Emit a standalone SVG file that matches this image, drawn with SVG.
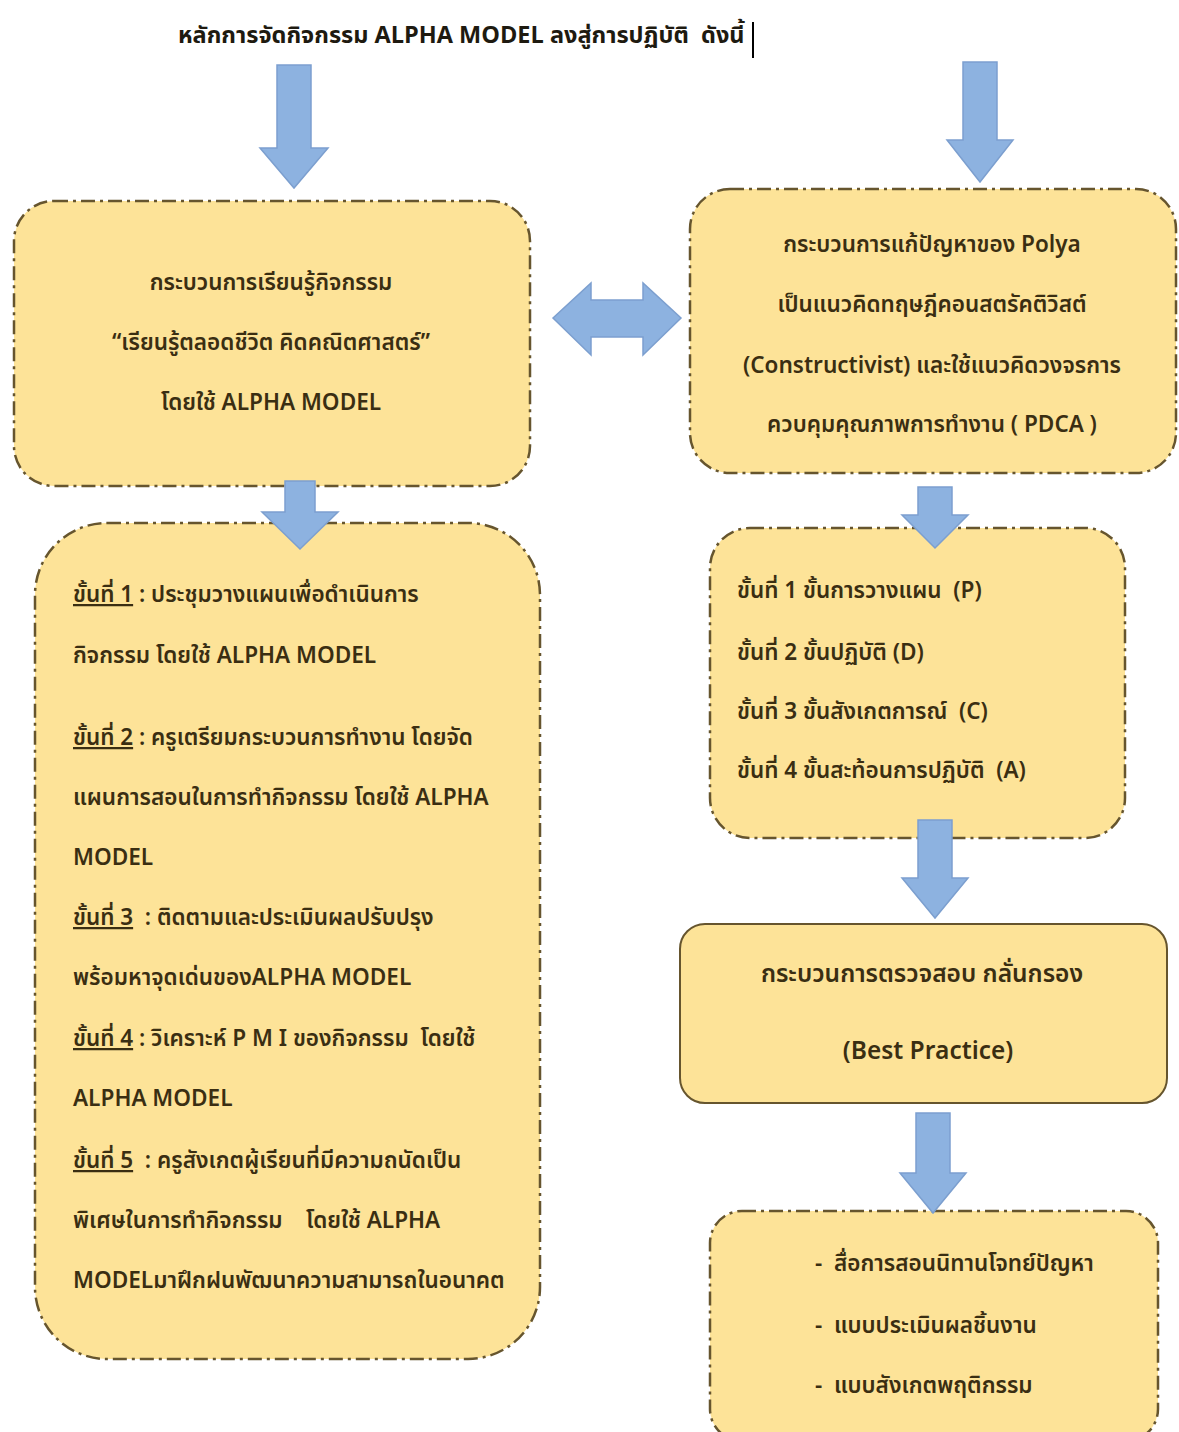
<svg xmlns="http://www.w3.org/2000/svg" width="1179" height="1432" viewBox="0 0 1179 1432">
<style>
text{font-family:"Noto Sans Thai","Noto Sans","DejaVu Sans","Liberation Sans",sans-serif;fill:#3a2e12;font-size:22.5px;font-weight:600;white-space:pre}
.c{text-anchor:middle}
.box{fill:#FDE398;stroke:#66552e;stroke-width:2.5;stroke-dasharray:14 5 3 5}
.solid{fill:#FDE398;stroke:#66552e;stroke-width:2}
.arr{fill:#8DB2E0;stroke:#7C9FCF;stroke-width:1.5}
.u{text-decoration:underline}
</style>
<rect width="1179" height="1432" fill="#ffffff"/>
<g id="title">
<text x="178" y="43" style="font-size:23.5px;font-weight:700;fill:#1e1a10">หลักการจัดกิจกรรม ALPHA MODEL ลงสู่การปฏิบัติ  ดังนี้</text>
<line x1="753" y1="22" x2="753" y2="58" stroke="#000" stroke-width="2"/>
</g>
<g id="node-learning">
<rect class="box" x="14" y="201" width="516" height="285" rx="40"/>
<text class="c" x="271" y="290">กระบวนการเรียนรู้กิจกรรม</text>
<text class="c" x="271" y="350">“เรียนรู้ตลอดชีวิต คิดคณิตศาสตร์”</text>
<text class="c" x="271" y="410">โดยใช้ ALPHA MODEL</text>
</g>
<g id="node-polya">
<rect class="box" x="690" y="189" width="486" height="284" rx="40"/>
<text class="c" x="932" y="252">กระบวนการแก้ปัญหาของ Polya</text>
<text class="c" x="932" y="312">เป็นแนวคิดทฤษฎีคอนสตรัคติวิสต์</text>
<text class="c" x="932" y="373">(Constructivist) และใช้แนวคิดวงจรการ</text>
<text class="c" x="932" y="432">ควบคุมคุณภาพการทำงาน ( PDCA )</text>
</g>
<g id="node-steps-left">
<rect class="box" x="35" y="523" width="505" height="836" rx="72"/>
<text x="73" y="602"><tspan class="u">ขั้นที่ 1</tspan> : ประชุมวางแผนเพื่อดำเนินการ</text>
<text x="73" y="663">กิจกรรม โดยใช้ ALPHA MODEL</text>
<text x="73" y="745"><tspan class="u">ขั้นที่ 2</tspan> : ครูเตรียมกระบวนการทำงาน โดยจัด</text>
<text x="73" y="805">แผนการสอนในการทำกิจกรรม โดยใช้ ALPHA</text>
<text x="73" y="865">MODEL</text>
<text x="73" y="925"><tspan class="u">ขั้นที่ 3</tspan>  : ติดตามและประเมินผลปรับปรุง</text>
<text x="73" y="985">พร้อมหาจุดเด่นของALPHA MODEL</text>
<text x="73" y="1046"><tspan class="u">ขั้นที่ 4</tspan> : วิเคราะห์ P M I ของกิจกรรม  โดยใช้</text>
<text x="73" y="1106">ALPHA MODEL</text>
<text x="73" y="1168"><tspan class="u">ขั้นที่ 5</tspan>  : ครูสังเกตผู้เรียนที่มีความถนัดเป็น</text>
<text x="73" y="1228">พิเศษในการทำกิจกรรม    โดยใช้ ALPHA</text>
<text x="73" y="1288">MODELมาฝึกฝนพัฒนาความสามารถในอนาคต</text>
</g>
<g id="node-pdca">
<rect class="box" x="710" y="528" width="415" height="310" rx="40"/>
<text x="737" y="598">ขั้นที่ 1 ขั้นการวางแผน  (P)</text>
<text x="737" y="660">ขั้นที่ 2 ขั้นปฏิบัติ (D)</text>
<text x="737" y="719">ขั้นที่ 3 ขั้นสังเกตการณ์  (C)</text>
<text x="737" y="778">ขั้นที่ 4 ขั้นสะท้อนการปฏิบัติ  (A)</text>
</g>
<g id="node-best">
<rect class="solid" x="680" y="924" width="487" height="179" rx="25"/>
<text class="c" x="922" y="982" style="font-size:24.5px">กระบวนการตรวจสอบ กลั่นกรอง</text>
<text class="c" x="928" y="1059" style="font-size:24.5px">(Best Practice)</text>
</g>
<g id="node-media">
<rect class="box" x="710" y="1211" width="448" height="230" rx="32"/>
<text x="815" y="1271">-  สื่อการสอนนิทานโจทย์ปัญหา</text>
<text x="815" y="1333">-  แบบประเมินผลชิ้นงาน</text>
<text x="815" y="1393">-  แบบสังเกตพฤติกรรม</text>
</g>
<g id="connectors">
<path class="arr" d="M277,65 H311 V148 H328 L294,188 L260,148 H277 Z"/>
<path class="arr" d="M963,62 H997 V140 H1013 L980,182 L947,140 H963 Z"/>
<path class="arr" d="M553,318 L591,283 V300 H643 V283 L681,318 L643,355 V337 H591 V355 Z"/>
<path class="arr" d="M285,481 H315 V512 H338 L300,549 L262,512 H285 Z"/>
<path class="arr" d="M918,487 H952 V515 H968 L935,548 L902,515 H918 Z"/>
<path class="arr" d="M918,820 H952 V878 H968 L935,918 L902,878 H918 Z"/>
<path class="arr" d="M916,1113 H950 V1173 H966 L933,1213 L900,1173 H916 Z"/>
</g>
</svg>
